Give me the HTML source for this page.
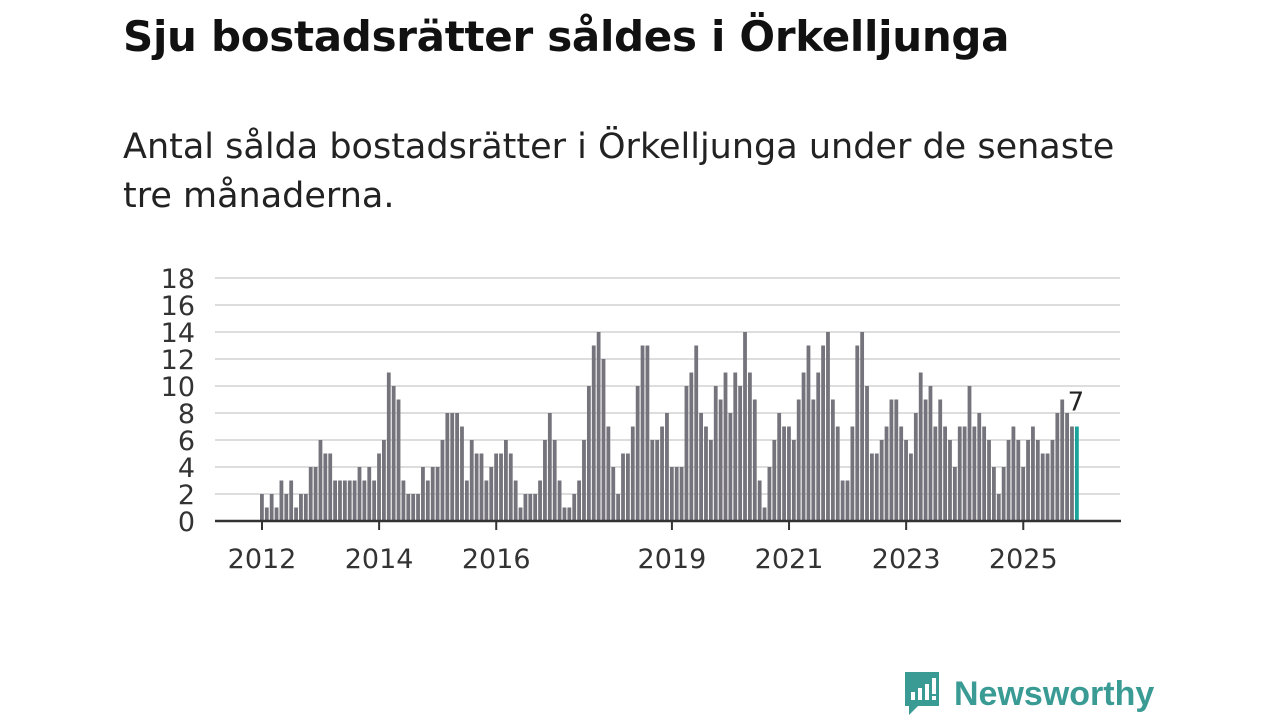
<!DOCTYPE html>
<html><head><meta charset="utf-8"><style>
body{margin:0;width:1280px;height:720px;background:#fff;font-family:"DejaVu Sans","Liberation Sans",sans-serif;overflow:hidden;position:relative}
#title{position:absolute;left:123px;top:12px;font-size:42px;font-weight:bold;color:#111;margin:0;letter-spacing:-0.3px;white-space:nowrap}
#sub{position:absolute;left:123px;top:123px;width:1005px;font-size:35px;line-height:49px;color:#222;margin:0}
#chart{position:absolute;left:0;top:0}
#logo{position:absolute;left:902px;top:670px;display:flex;align-items:center}
#logo span{font-family:"Liberation Sans",sans-serif;font-size:34px;font-weight:bold;color:#3a9a94;margin-left:12px}
</style></head><body>
<h1 id="title">Sju bostadsrätter såldes i Örkelljunga</h1>
<p id="sub">Antal sålda bostadsrätter i Örkelljunga under de senaste tre månaderna.</p>
<svg id="chart" width="1280" height="720"></svg>
<div id="logo">
<svg width="40" height="48" viewBox="0 0 40 48"><path d="M3 2h34v34H16l-9 9v-9H3z" fill="#3a9a94"/><rect x="9" y="22" width="4" height="8" fill="#fff"/><rect x="16" y="18" width="4" height="12" fill="#fff"/><rect x="23" y="14" width="4" height="16" fill="#fff"/><rect x="30" y="8" width="4" height="16" fill="#fff"/><rect x="30" y="26" width="4" height="4" fill="#fff"/></svg>
<span>Newsworthy</span></div>
<script>
const values=[2,1,2,1,3,2,3,1,2,2,4,4,6,5,5,3,3,3,3,3,4,3,4,3,5,6,11,10,9,3,2,2,2,4,3,4,4,6,8,8,8,7,
3,6,5,5,3,4,5,5,6,5,3,1,2,2,2,3,6,8,6,3,1,1,2,3,6,10,13,14,12,7,4,2,5,5,7,10,13,13,6,6,7,8,4,4,
4,10,11,13,8,7,6,10,9,11,8,11,10,14,11,9,3,1,4,6,8,7,7,6,9,11,13,9,11,13,14,9,7,3,3,7,13,14,10,5,5,
6,7,9,9,7,6,5,8,11,9,10,7,9,7,6,4,7,7,10,7,8,7,6,4,2,4,6,7,6,4,6,7,6,5,5,6,8,9,8,7,7];
const yTicks=[0,2,4,6,8,10,12,14,16,18];
const xTickYears=[2012,2014,2016,2019,2021,2023,2025];
const startYear=2012;
const NS="http://www.w3.org/2000/svg";
const svg=document.getElementById('chart');
const x0=262,mw=4.88,yb=521,yu=13.5;
const X=i=>x0+i*mw, Y=v=>yb-v*yu;
const FF='DejaVu Sans, Liberation Sans, sans-serif';
function mk(t,a){const e=document.createElementNS(NS,t);for(const k in a)e.setAttribute(k,a[k]);svg.appendChild(e);return e;}
yTicks.forEach(t=>{
 if(t>0){const g=mk('line',{x1:215,x2:1120,y1:Y(t),y2:Y(t),stroke:'#ddd','stroke-width':2});
 
 }
 const l=mk('text',{x:195,y:Y(t)+10,'text-anchor':'end','font-size':27,fill:'#333','font-family':FF});
 l.textContent=t;
 
 
});
values.forEach((v,i)=>{
 const last=i===values.length-1;
 const r=mk('rect',{x:X(i)-2,y:Y(v),width:3.8,height:v*yu,fill:last?'#1aa39a':'#75737b'});
 
 
});
const li=values.length-1;
const vl=mk('text',{x:X(li)-1,y:Y(values[li])-16,'text-anchor':'middle','font-size':26,fill:'#222','font-family':FF});
vl.textContent=values[li];


const ax=mk('line',{x1:215,x2:1121,y1:yb,y2:yb,stroke:'#333','stroke-width':2.5});


xTickYears.forEach(yr=>{
 const x=X((yr-startYear)*12);
 const tk=mk('line',{x1:x,x2:x,y1:yb,y2:yb+9,stroke:'#333','stroke-width':2});
 
 
 const l=mk('text',{x:x,y:568,'text-anchor':'middle','font-size':27,fill:'#333','font-family':FF});
 l.textContent=yr;
 
 
});
</script>
</body></html>
